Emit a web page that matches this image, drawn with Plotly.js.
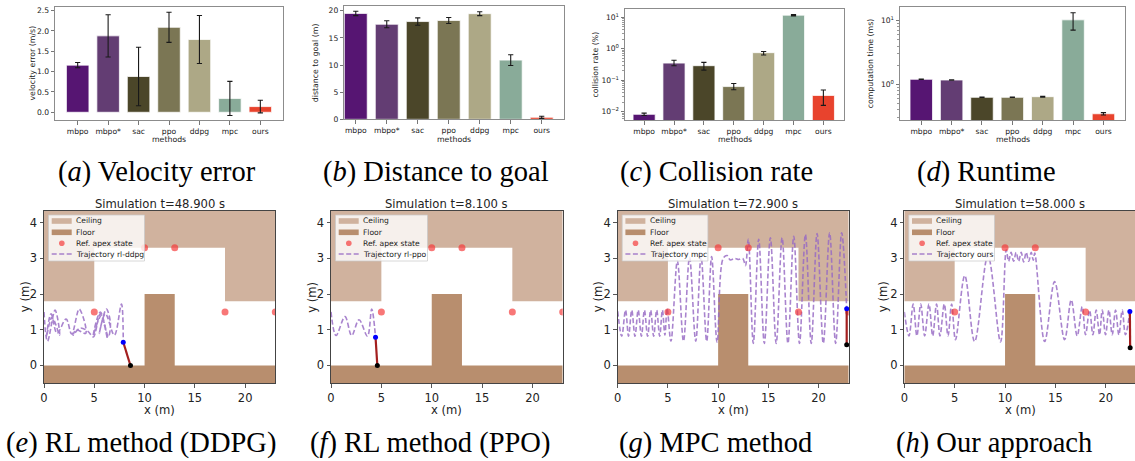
<!DOCTYPE html>
<html><head><meta charset="utf-8">
<script src="https://cdn.plot.ly/plotly-3.0.1.min.js"></script>
<style>body{margin:0;background:#fff;} #chart{width:1135px;height:461px;}</style>
</head><body><div id="chart"></div>
<script>
// ---------------- DATA ----------------
const methods = ['mbpo', 'mbpo*', 'sac', 'ppo', 'ddpg', 'mpc', 'ours'];
const barColors = ['#561572', '#633d73', '#4b4629', '#7b7654', '#ada886', '#89ab99', '#e8432d'];

const velocityError = [1.16, 1.88, 0.88, 2.09, 1.79, 0.34, 0.14];
const velocityErrorStd = [0.065, 0.52, 0.72, 0.37, 0.59, 0.42, 0.155];

const distanceToGoal = [19.5, 17.5, 18.0, 18.2, 19.45, 10.9, 0.37];
const distanceToGoalStd = [0.4, 0.65, 0.67, 0.55, 0.35, 1.0, 0.2];

const collisionRate = [0.0083, 0.35, 0.29, 0.063, 0.75, 11.6, 0.033];
const collisionRatePlus = [0.0008, 0.08, 0.08, 0.016, 0.07, 0.5, 0.016];
const collisionRateMinus = [0.0007, 0.06, 0.08, 0.013, 0.12, 0.6, 0.017];

const computationTime = [1.2, 1.17, 0.625, 0.625, 0.64, 10.3, 0.345];
const computationTimePlus = [0.01, 0.01, 0.005, 0.005, 0.01, 3.0, 0.015];
const computationTimeMinus = [0.01, 0.01, 0.005, 0.005, 0.01, 3.2, 0.015];

const logTickVals = [0.01, 0.1, 1, 10];
const logTickText = ['10<sup>\u22122</sup>', '10<sup>\u22121</sup>', '10<sup>0</sup>', '10<sup>1</sup>'];

const barYLabels = ['velocity error (m/s)', 'distance to goal (m)', 'collision rate (%)', 'computation time (ms)'];
const topCaptions = ['(<i>a</i>) Velocity error', '(<i>b</i>) Distance to goal', '(<i>c</i>) Collision rate', '(<i>d</i>) Runtime'];
const bottomCaptions = ['(<i>e</i>) RL method (DDPG)', '(<i>f</i>) RL method (PPO)', '(<i>g</i>) MPC method', '(<i>h</i>) Our approach'];

// environment geometry
const ceilingX = [0, 0, 5, 5, 18, 18, 23, 23];
const ceilingY = [4.6, 1.8, 1.8, 3.3, 3.3, 1.8, 1.8, 4.6];
const floorX = [0, 0, 10, 10, 13, 13, 23, 23];
const floorY = [-0.6, 0, 0, 2, 2, 0, 0, -0.6];
const apexX = [5, 10, 13, 18, 23];
const apexY = [1.5, 3.3, 3.3, 1.5, 1.5];

const simTitles = ['Simulation t=48.900 s', 'Simulation t=8.100 s', 'Simulation t=72.900 s', 'Simulation t=58.000 s'];
const trajNames = ['Trajectory rl-ddpg', 'Trajectory rl-ppo', 'Trajectory mpc', 'Trajectory ours'];

// trajectories
const ddpgX = [0, 0.35, 1.1, 1.55, 0.8, 0.25, 0.7, 1.3, 2.2, 2.75, 3.5, 4.15, 3.2, 2.9, 3.6, 4.4, 4.9, 5.6, 6.3, 5.7, 4.9, 5.6, 6.4, 6.6, 6.2, 5.5, 6.1, 7.0, 7.7, 7.88];
const ddpgY = [1.5, 0.68, 1.55, 0.85, 1.35, 0.8, 1.45, 0.9, 1.3, 0.88, 1.58, 0.9, 1.0, 0.85, 1.05, 0.95, 0.8, 1.45, 0.75, 1.4, 0.85, 1.5, 0.8, 1.2, 1.58, 0.9, 1.45, 0.85, 1.72, 0.65];

const ppoX = [0, 0.5, 1.39, 2.05, 2.78, 3.62, 4.04, 4.42];
const ppoY = [1.5, 0.84, 1.37, 0.84, 1.28, 0.82, 1.58, 0.79];

const mpcX = [0, 0.4, 0.78, 1.08, 1.4, 1.72, 2.04, 2.36, 2.66, 2.98, 3.28, 3.58, 3.88, 4.18, 4.45, 4.7, 4.92, 5.3, 5.94, 6.55, 7.15, 7.77, 8.3, 8.86, 9.35, 9.9, 10.5, 10.9, 11.2, 11.65, 12.05, 12.45, 12.72, 13.0, 13.5, 14.04, 14.6, 15.2, 15.78, 16.37, 16.95, 17.53, 18.1, 18.69, 19.27, 19.85, 20.47, 21.1, 21.7, 22.3, 22.8];
const mpcY = [1.52, 0.82, 1.55, 0.82, 1.55, 0.82, 1.55, 0.82, 1.55, 0.82, 1.55, 0.82, 1.55, 0.82, 1.55, 0.85, 1.6, 0.68, 2.93, 0.68, 3.03, 0.68, 3.05, 0.68, 3.05, 0.65, 3.0, 3.08, 2.96, 3.0, 2.97, 3.0, 2.8, 3.54, 0.62, 3.54, 0.62, 3.58, 0.62, 3.58, 0.62, 3.62, 0.62, 3.67, 0.62, 3.7, 0.62, 3.72, 0.62, 3.72, 1.59];

const oursX = [0, 0.47, 0.88, 1.25, 1.63, 2.02, 2.45, 2.82, 3.2, 3.54, 3.97, 4.34, 4.7, 5.08, 6.0, 6.98, 8.3, 9.55, 10.12, 10.35, 10.6, 10.85, 11.1, 11.35, 11.6, 11.85, 12.1, 12.35, 12.6, 12.8, 12.95, 13.93, 14.92, 15.91, 16.57, 17.16, 17.66, 17.99, 18.39, 18.72, 19.05, 19.38, 19.65, 19.98, 20.31, 20.64, 20.97, 21.3, 21.63, 21.95, 22.39];
const oursY = [1.5, 0.83, 1.72, 0.83, 1.72, 0.83, 1.72, 0.83, 1.72, 0.83, 1.72, 0.83, 1.72, 0.72, 2.52, 0.67, 3.08, 0.66, 3.24, 2.92, 3.17, 2.92, 3.17, 2.92, 3.17, 2.9, 3.17, 2.92, 3.17, 2.95, 3.15, 0.67, 2.35, 0.72, 1.84, 0.83, 1.65, 0.86, 1.55, 0.86, 1.55, 0.86, 1.55, 0.86, 1.55, 0.86, 1.55, 0.86, 1.55, 0.86, 1.51];

// robot leg: hip (blue) and foot (black)
const hipX = [7.88, 4.42, 22.8, 22.39];
const hipY = [0.65, 0.79, 1.59, 1.51];
const footX = [8.6, 4.6, 22.8, 22.42];
const footY = [0.0, 0.0, 0.58, 0.5];

const trajX = [ddpgX, ppoX, mpcX, oursX];
const trajY = [ddpgY, ppoY, mpcY, oursY];

// ---------------- STYLE / LAYOUT ----------------
const W = 1135, H = 461;
const fx = p => p / W;
const fy = p => 1 - p / H;
const FONT = 'DejaVu Sans';
const ceilColor = '#d0b29e';
const floorColor = '#b88e6e';
const trajColor = 'rgba(150,105,195,0.82)';
const apexColor = 'rgba(245,55,55,0.68)';

const topBoxes = [
  {x0: 55, x1: 283, y0: 7, y1: 120, yl: 32, range: [-0.19, 2.59], xr: [-0.745, 6.745]},
  {x0: 344.3, x1: 563.7, y0: 5.7, y1: 119.3, yl: 315.7, range: [0, 20.92], xr: [-0.37, 6.71]},
  {x0: 625, x1: 844, y0: 9, y1: 120, yl: 595, range: [-2.26, 1.26], xr: [-0.64, 6.69]},
  {x0: 900, x1: 1125, y0: 7.3, y1: 120, yl: 870.7, range: [-0.56, 1.21], xr: [-0.7, 6.71]}
];
const botBoxes = [
  {x0: 44, x1: 275.3, yl: 25, xr: [0, 23], lw: 96},
  {x0: 331, x1: 562.7, yl: 311.7, xr: [0, 23], lw: 92},
  {x0: 617.7, x1: 848.7, yl: 598, xr: [0, 23], lw: 85.7},
  {x0: 904.3, x1: 1135, yl: 883, xr: [0, 22.9], lw: 85.7}
];
const botY0 = 211, botY1 = 383.3;
const topCapX = [157, 436, 716, 986];
const botCapX = [141, 430, 715, 994];

const traces = [];
const layout = {
  width: W, height: H,
  margin: {l: 0, r: 0, t: 0, b: 0},
  paper_bgcolor: '#fff', plot_bgcolor: '#fff',
  showlegend: false,
  font: {family: FONT, color: '#222'},
  shapes: [], annotations: []
};

function minorLogTicks(lo, hi) {
  const out = [];
  for (let e = lo; e <= hi; e++) for (let m = 2; m <= 9; m++) out.push(m * Math.pow(10, e));
  return out;
}

const barSeries = [
  {y: velocityError, err: {type: 'data', array: velocityErrorStd}},
  {y: distanceToGoal, err: {type: 'data', array: distanceToGoalStd}},
  {y: collisionRate, err: {type: 'data', symmetric: false, array: collisionRatePlus, arrayminus: collisionRateMinus}},
  {y: computationTime, err: {type: 'data', symmetric: false, array: computationTimePlus, arrayminus: computationTimeMinus}}
];

topBoxes.forEach((b, i) => {
  const n = i + 1;
  const xa = 'xaxis' + (n === 1 ? '' : n), ya = 'yaxis' + (n === 1 ? '' : n);
  const xr = 'x' + (n === 1 ? '' : n), yr = 'y' + (n === 1 ? '' : n);
  const s = barSeries[i];
  traces.push({
    type: 'bar', x: methods, y: s.y, xaxis: xr, yaxis: yr, width: 0.74,
    marker: {color: barColors, line: {color: 'rgba(255,255,255,0.75)', width: 1}},
    error_y: Object.assign({color: '#1a1a1a', thickness: 1.1, width: 2.6}, s.err),
    hoverinfo: 'skip'
  });
  const common = {
    showline: true, mirror: true, linecolor: '#8c8c8c', linewidth: 1,
    ticks: 'outside', ticklen: 3.5, tickwidth: 0.8, tickcolor: '#555',
    tickfont: {family: FONT, size: 7.6, color: '#222'},
    showgrid: false, zeroline: false, fixedrange: true
  };
  layout[xa] = Object.assign({}, common, {
    domain: [fx(b.x0), fx(b.x1)], anchor: yr, type: 'category', range: b.xr
  });
  const yax = Object.assign({}, common, {
    domain: [fy(b.y1), fy(b.y0)], anchor: xr, range: b.range
  });
  if (i === 0) { yax.tickvals = [0, 0.5, 1, 1.5, 2, 2.5]; yax.tickformat = '.1f'; }
  if (i === 1) { yax.dtick = 5; }
  if (i >= 2) {
    yax.type = 'log'; yax.tickmode = 'array'; yax.tickvals = logTickVals; yax.ticktext = logTickText;
    yax.minor = {tickmode: 'array', tickvals: minorLogTicks(-3, 1), ticks: 'outside', ticklen: 2, tickcolor: '#555', tickwidth: 0.6};
  }
  layout[ya] = yax;
  layout.annotations.push({
    xref: 'paper', yref: 'paper', x: fx(b.yl), y: fy((b.y0 + b.y1) / 2), text: barYLabels[i],
    textangle: -90, showarrow: false, font: {family: FONT, size: 7.8, color: '#222'},
    xanchor: 'center', yanchor: 'middle'
  });
  layout.annotations.push({
    xref: 'paper', yref: 'paper', x: fx((b.x0 + b.x1) / 2), y: fy(139), text: 'methods',
    showarrow: false, font: {family: FONT, size: 7.8, color: '#222'}, xanchor: 'center', yanchor: 'middle'
  });
  layout.annotations.push({
    xref: 'paper', yref: 'paper', x: fx(topCapX[i]), y: fy(172), text: topCaptions[i],
    showarrow: false, font: {family: 'Liberation Serif', size: 28.5, color: '#000'}, xanchor: 'center', yanchor: 'middle'
  });
});

botBoxes.forEach((b, i) => {
  const n = i + 5;
  const xr = 'x' + n, yr = 'y' + n;
  traces.push({type: 'scatter', mode: 'lines', x: ceilingX, y: ceilingY, xaxis: xr, yaxis: yr,
    fill: 'toself', fillcolor: ceilColor, line: {width: 0, color: ceilColor}, hoverinfo: 'skip', name: 'Ceiling'});
  traces.push({type: 'scatter', mode: 'lines', x: floorX, y: floorY, xaxis: xr, yaxis: yr,
    fill: 'toself', fillcolor: floorColor, line: {width: 0, color: floorColor}, hoverinfo: 'skip', name: 'Floor'});
  traces.push({type: 'scatter', mode: 'lines', x: trajX[i], y: trajY[i], xaxis: xr, yaxis: yr,
    line: {color: trajColor, width: 1.6, dash: '5px,2.5px', shape: 'spline', smoothing: 1}, hoverinfo: 'skip', name: trajNames[i]});
  traces.push({type: 'scatter', mode: 'markers', x: apexX, y: apexY, xaxis: xr, yaxis: yr,
    marker: {color: apexColor, size: 7}, hoverinfo: 'skip', name: 'Ref. apex state', cliponaxis: true});
  traces.push({type: 'scatter', mode: 'lines', x: [hipX[i], footX[i]], y: [hipY[i], footY[i]], xaxis: xr, yaxis: yr,
    line: {color: '#a31f1f', width: 2.2}, hoverinfo: 'skip'});
  traces.push({type: 'scatter', mode: 'markers', x: [hipX[i]], y: [hipY[i]], xaxis: xr, yaxis: yr,
    marker: {color: '#0000ff', size: 5}, hoverinfo: 'skip', cliponaxis: false});
  traces.push({type: 'scatter', mode: 'markers', x: [footX[i]], y: [footY[i]], xaxis: xr, yaxis: yr,
    marker: {color: '#000', size: 5}, hoverinfo: 'skip', cliponaxis: false});

  const common = {
    showline: true, mirror: true, linecolor: '#444', linewidth: 1,
    ticks: 'outside', ticklen: 3.5, tickwidth: 0.9, tickcolor: '#444',
    tickfont: {family: FONT, size: 11.5, color: '#222'},
    showgrid: false, zeroline: false, fixedrange: true
  };
  layout['xaxis' + n] = Object.assign({}, common, {domain: [fx(b.x0), fx(b.x1)], anchor: yr, range: b.xr, dtick: 5, tick0: 0});
  layout['yaxis' + n] = Object.assign({}, common, {domain: [fy(botY1), fy(botY0)], anchor: xr, range: [-0.5, 4.33], dtick: 1, tick0: 0});

  const cx = (b.x0 + b.x1) / 2;
  const cxt = i === 3 ? 1020 : cx;
  layout.annotations.push({xref: 'paper', yref: 'paper', x: fx(cxt), y: fy(204), text: simTitles[i],
    showarrow: false, font: {family: FONT, size: 11.6, color: '#222'}, xanchor: 'center', yanchor: 'middle'});
  layout.annotations.push({xref: 'paper', yref: 'paper', x: fx(cxt), y: fy(410), text: 'x (m)',
    showarrow: false, font: {family: FONT, size: 11.6, color: '#222'}, xanchor: 'center', yanchor: 'middle', borderpad: 0});
  layout.annotations.push({xref: 'paper', yref: 'paper', x: fx(b.yl), y: fy((botY0 + botY1) / 2), text: 'y (m)',
    textangle: -90, showarrow: false, font: {family: FONT, size: 11.6, color: '#222'}, xanchor: 'center', yanchor: 'middle'});
  layout.annotations.push({xref: 'paper', yref: 'paper', x: fx(botCapX[i]), y: fy(443), text: bottomCaptions[i],
    showarrow: false, font: {family: 'Liberation Serif', size: 28.5, color: '#000'}, xanchor: 'center', yanchor: 'middle'});

  // legend box (drawn manually)
  const L = b.x0;
  const bx0 = L + 4.5, bx1 = L + 4.5 + b.lw;
  layout.shapes.push({type: 'rect', xref: 'paper', yref: 'paper', x0: fx(bx0), x1: fx(bx1), y0: fy(261), y1: fy(215),
    fillcolor: 'rgba(255,255,255,0.8)', line: {color: 'rgba(200,200,200,0.9)', width: 0.8}, layer: 'above'});
  layout.shapes.push({type: 'rect', xref: 'paper', yref: 'paper', x0: fx(L + 7.7), x1: fx(L + 27.7), y0: fy(223.8), y1: fy(218.2),
    fillcolor: ceilColor, line: {width: 0}, layer: 'above'});
  layout.shapes.push({type: 'rect', xref: 'paper', yref: 'paper', x0: fx(L + 7.7), x1: fx(L + 27.7), y0: fy(235.1), y1: fy(229.5),
    fillcolor: floorColor, line: {width: 0}, layer: 'above'});
  layout.shapes.push({type: 'circle', xref: 'paper', yref: 'paper', x0: fx(L + 15.0), x1: fx(L + 20.6), y0: fy(246.1), y1: fy(240.5),
    fillcolor: apexColor, line: {width: 0}, layer: 'above'});
  layout.shapes.push({type: 'line', xref: 'paper', yref: 'paper', x0: fx(L + 7.7), x1: fx(L + 27.7), y0: fy(254), y1: fy(254),
    line: {color: trajColor, width: 1.6, dash: '5px,2.5px'}, layer: 'above'});
  const legTexts = ['Ceiling', 'Floor', 'Ref. apex state', trajNames[i]];
  const legY = [221, 232.3, 243.3, 254];
  legTexts.forEach((t, k) => {
    layout.annotations.push({xref: 'paper', yref: 'paper', x: fx(L + 30), y: fy(legY[k]), text: t,
      showarrow: false, font: {family: FONT, size: 7.6, color: '#222'}, xanchor: 'left', yanchor: 'middle'});
  });
});

Plotly.newPlot('chart', traces, layout, {displayModeBar: false, staticPlot: true});
</script>
</body></html>
